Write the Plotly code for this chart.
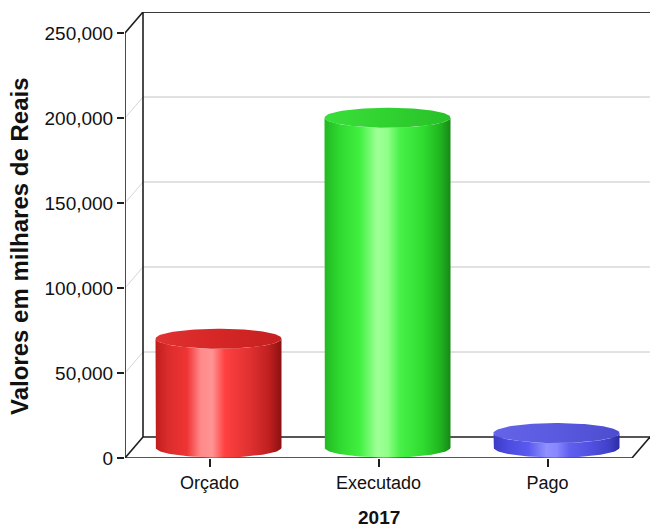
import numpy as np
import plotly.graph_objects as go

# ---------------- data ----------------
categories = ["Orçado", "Executado", "Pago"]
values = [64000, 194000, 8500]
y_ticks = [0, 50000, 100000, 150000, 200000, 250000]
y_title = "Valores em milhares de Reais"
x_title = "2017"

# ---------------- styles ----------------
body_scales = [
    [[0, "#c01c1c"], [0.1, "#dc2c2c"], [0.25, "#f03434"], [0.36, "#ff8a8a"],
     [0.45, "#ff9494"], [0.55, "#ff4040"], [0.75, "#e03030"], [0.9, "#c02020"], [1, "#8c1010"]],
    [[0, "#22b822"], [0.12, "#30d830"], [0.28, "#40f040"], [0.42, "#a0ff98"],
     [0.5, "#90ff88"], [0.6, "#48f048"], [0.78, "#30dc30"], [0.92, "#20b420"], [1, "#168816"]],
    [[0, "#3c3cc8"], [0.12, "#4c4ce0"], [0.28, "#5a5af0"], [0.42, "#9090ff"],
     [0.5, "#8888ff"], [0.6, "#6060f0"], [0.78, "#5050e0"], [0.92, "#4040c8"], [1, "#2c2ca0"]],
]
top_scales = [
    [[0, "#e03232"], [0.5, "#d62626"], [1, "#c42020"]],
    [[0, "#3ade3a"], [0.5, "#30d230"], [1, "#28c028"]],
    [[0, "#6464e8"], [0.5, "#5a5ae0"], [1, "#4c4cd0"]],
]

W, H = 650, 527
left_px, right_px, top_px, bottom_px = 125, 650, 12, 458
ncat = len(categories)
px_per_cat = 169.0
depth_x_px, depth_y_px = 18.0, 21.0
ymax = y_ticks[-1]
px_per_unit = (bottom_px - top_px - depth_y_px) / ymax

dxd = depth_x_px / px_per_cat           # depth offset in category units
dyd = depth_y_px / px_per_unit          # depth offset in value units
rx = 63.0 / px_per_cat                  # cylinder radius (x)
ry = 10.0 / px_per_unit                 # ellipse half height (y)

x0, x1 = -0.5, ncat - 0.5
xr = [x0, x1 + dxd]
yr = [0, ymax + dyd]

fig = go.Figure()

# ---------------- cylinders ----------------
for i, (cat, v) in enumerate(zip(categories, values)):
    cx = i + dxd / 2
    base = dyd / 2
    top = v + dyd / 2
    th_b = np.linspace(np.pi, 2 * np.pi, 60)
    th_t = np.linspace(2 * np.pi, np.pi, 60)
    bx = list(cx + rx * np.cos(th_b))
    by = list(base + ry * np.sin(th_b))
    tx = list(cx + rx * np.cos(th_t))
    ty = list(top + ry * np.sin(th_t))
    xs = [cx - rx] + bx + [cx + rx] + tx
    ys = [top] + by + [top] + ty
    fig.add_trace(go.Scatter(
        x=xs, y=ys, mode="lines", fill="toself",
        line=dict(width=0, color="rgba(0,0,0,0)"),
        fillgradient=dict(type="horizontal", colorscale=body_scales[i]),
        hoverinfo="skip", showlegend=False))
    th = np.linspace(0, 2 * np.pi, 120)
    fig.add_trace(go.Scatter(
        x=list(cx + rx * np.cos(th)), y=list(top + ry * np.sin(th)),
        mode="lines", fill="toself",
        line=dict(width=0, color="rgba(0,0,0,0)"),
        fillgradient=dict(type="horizontal", colorscale=top_scales[i]),
        hoverinfo="skip", showlegend=False))

# ---------------- frame shapes ----------------
shapes = []
dark = dict(color="#1e1e1e", width=1.6)
grid = dict(color="#c4c4c4", width=1)
for t in y_ticks[1:-1]:
    shapes.append(dict(type="line", xref="x", yref="y", x0=x0 + dxd, x1=xr[1],
                       y0=t + dyd, y1=t + dyd, line=grid, layer="below"))
    shapes.append(dict(type="line", xref="x", yref="y", x0=x0, x1=x0 + dxd,
                       y0=t, y1=t + dyd, line=dict(color="#d4d4d4", width=1), layer="below"))
# back wall
shapes.append(dict(type="line", xref="x", yref="y", x0=x0 + dxd, x1=xr[1],
                   y0=ymax + dyd, y1=ymax + dyd, line=dict(color="#3a3a3a", width=2), layer="below"))
shapes.append(dict(type="line", xref="x", yref="y", x0=x0 + dxd, x1=x0 + dxd,
                   y0=dyd, y1=ymax + dyd, line=dark, layer="below"))
# front axis + top diagonal
shapes.append(dict(type="line", xref="x", yref="y", x0=x0, x1=x0, y0=0, y1=ymax, line=dark, layer="below"))
shapes.append(dict(type="line", xref="x", yref="y", x0=x0, x1=x0 + dxd, y0=ymax, y1=ymax + dyd, line=dark, layer="below"))
# floor
shapes.append(dict(type="line", xref="x", yref="y", x0=x0 + dxd, x1=x1 + dxd, y0=dyd, y1=dyd, line=dark, layer="below"))
shapes.append(dict(type="line", xref="x", yref="y", x0=x0, x1=x1, y0=0, y1=0, line=dark, layer="below"))
shapes.append(dict(type="line", xref="x", yref="y", x0=x0, x1=x0 + dxd, y0=0, y1=dyd, line=dark, layer="below"))
shapes.append(dict(type="line", xref="x", yref="y", x0=x1, x1=x1 + dxd, y0=0, y1=dyd, line=dark, layer="below"))

font_family = "Liberation Sans, Arial, sans-serif"
plot_w = right_px - left_px
plot_h = bottom_px - top_px

fig.update_layout(
    width=W, height=H,
    margin=dict(l=left_px, r=W - right_px, t=top_px, b=H - bottom_px, pad=0, autoexpand=False),
    paper_bgcolor="white", plot_bgcolor="white",
    shapes=shapes,
    font=dict(family=font_family, size=18, color="#111111"),
    xaxis=dict(range=xr, tickvals=list(range(ncat)), ticktext=categories,
               showgrid=False, zeroline=False, showline=False, automargin=False,
               ticks="outside", ticklen=8, tickcolor="#1e1e1e", tickwidth=1.5,
               tickfont=dict(size=18), fixedrange=True),
    yaxis=dict(range=yr, tickvals=y_ticks, tickformat=",",
               showgrid=False, zeroline=False, showline=False, automargin=False,
               ticks="outside", ticklen=7, tickcolor="#1e1e1e", tickwidth=1.5,
               tickfont=dict(size=19), fixedrange=True),
    annotations=[
        dict(text=y_title, xref="paper", yref="paper",
             x=(20 - left_px) / plot_w, y=(bottom_px - 246) / plot_h,
             xanchor="center", yanchor="middle", textangle=-90, showarrow=False,
             font=dict(size=24, weight="bold", family=font_family, color="#111111")),
        dict(text=x_title, xref="paper", yref="paper",
             x=(379 - left_px) / plot_w, y=(bottom_px - 517) / plot_h,
             xanchor="center", yanchor="middle", showarrow=False,
             font=dict(size=19, weight="bold", family=font_family, color="#111111")),
    ],
)

fig.write_html("out.html", config={"displayModeBar": False},
               post_script="document.body.style.margin='0';document.body.style.overflow='hidden';")
